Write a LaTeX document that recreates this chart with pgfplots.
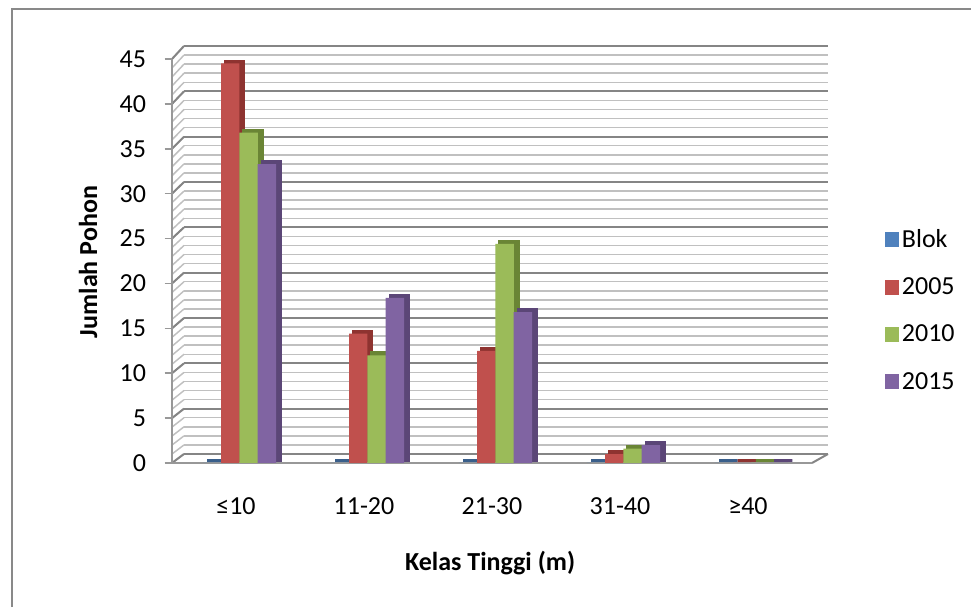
\documentclass[border=0pt]{standalone}
\usepackage{fontspec}
\setmainfont{Carlito}
\usepackage{pgfplots}
\pgfplotsset{compat=1.18}
\definecolor{cBlue}{HTML}{4F81BD}
\definecolor{cRed}{HTML}{C0504D}
\definecolor{cGreen}{HTML}{9BBB59}
\definecolor{cPurple}{HTML}{8064A2}
\definecolor{cBlueD}{HTML}{3A5F8B}
\definecolor{cRedD}{HTML}{8E3330}
\definecolor{cGreenD}{HTML}{6A8535}
\definecolor{cPurpleD}{HTML}{5B4677}
\definecolor{gridD}{HTML}{858585}
\definecolor{gridL}{HTML}{C0C0C0}
\definecolor{axisC}{HTML}{989898}
\definecolor{frameC}{HTML}{898989}
\newcommand{\chartfont}{\fontsize{19.5}{23}\selectfont}
\begin{document}
\begin{tikzpicture}
\useasboundingbox (0,0) rectangle (728.25pt,455.25pt);
\fill[white] (0,0) rectangle (728.25pt,455.25pt);
\draw[frameC, line width=1.3pt] (9pt,0) -- (9pt,448.5pt) -- (728.25pt,448.5pt);

% back wall
\begin{axis}[
  at={(138pt,114.75pt)}, anchor=south west, scale only axis,
  width=483pt, height=306pt,
  xmin=-0.5, xmax=4.5, ymin=0, ymax=45,
  axis line style={draw=none}, tick style={draw=none},
  xtick=\empty, ytick={0,5,...,45}, minor y tick num=4, yticklabels={},
  yminorgrids,
  minor grid style={gridL, line width=1.1pt},
  clip=false]
\pgfplotsinvokeforeach{0,...,45}{\draw[gridL, line width=1.1pt] (axis cs:-0.5,#1) -- ++(-9pt,{-6.75pt-#1*0.0667pt});}
\pgfplotsinvokeforeach{0,5,...,45}{\draw[gridD, line width=1.5pt] (axis cs:-0.5,#1) -- ++(-9pt,{-6.75pt-#1*0.0667pt});}
\pgfplotsinvokeforeach{0,5,...,45}{\draw[gridD, line width=1.5pt] (axis cs:-0.5,#1) -- (axis cs:4.5,#1);}
\draw[gridD, line width=1.5pt] (axis cs:4.5,0) -- ++(-12pt,-6.75pt);
\end{axis}

% front
\begin{axis}[
  at={(129pt,108pt)}, anchor=south west, scale only axis,
  width=480pt, height=303pt,
  xmin=-0.5, xmax=4.5, ymin=0, ymax=45,
  axis x line*=bottom, axis y line*=left,
  axis line style={axisC, line width=1.1pt, -},
  xtick={0,...,4}, xticklabels={≤10,11-20,21-30,31-40,≥40},
  ytick={0,5,...,45},
  x tick style={draw=none},
  y tick style={axisC, line width=1.1pt},
  tick align=outside, major tick length=5.5pt,
  ticklabel style={font=\chartfont},
  /pgf/number format/assume math mode=true,
  xticklabel style={yshift=-17pt},
  yticklabel style={xshift=-10.5pt},
  xlabel={Kelas Tinggi (m)},
  xlabel style={at={(axis description cs:0.497,-0.2475)}, anchor=center, font=\bfseries\chartfont},
  ylabel={Jumlah Pohon},
  ylabel style={at={(axis description cs:-0.131,0.4975)}, anchor=center, font=\bfseries\chartfont},
  ybar, bar width=13.75pt,
  clip=false,
  legend style={at={(1.113,0.585)}, anchor=north west, draw=none, fill=none, font=\chartfont,
    row sep=17.2pt, inner sep=0pt, cells={anchor=west}},
  legend image code/.code={\fill[#1] (0pt,-5.5pt) rectangle (11pt,5.5pt);},
]
% depth faces
\addplot[forget plot, fill=cBlueD, draw=cBlueD, line width=2.4pt, bar shift=-18pt, xshift=3.3pt, yshift=1.75pt] coordinates {(0,0) (1,0) (2,0) (3,0) (4,0)};
\addplot[forget plot, fill=cRedD, draw=cRedD, line width=2.4pt, bar shift=-4.28pt, xshift=3.3pt, yshift=1.75pt] coordinates {(0,44.5) (1,14.4) (2,12.5) (3,1.0) (4,0)};
\addplot[forget plot, fill=cGreenD, draw=cGreenD, line width=2.4pt, bar shift=9.45pt, xshift=3.3pt, yshift=1.75pt] coordinates {(0,36.8) (1,12.0) (2,24.4) (3,1.6) (4,0)};
\addplot[forget plot, fill=cPurpleD, draw=cPurpleD, line width=2.4pt, bar shift=23.18pt, xshift=3.3pt, yshift=1.75pt] coordinates {(0,33.3) (1,18.4) (2,16.8) (3,2.0) (4,0)};
% front faces
\addplot[fill=cBlue, draw=none, bar shift=-18pt] coordinates {(0,0) (1,0) (2,0) (3,0) (4,0)};
\addplot[fill=cRed, draw=none, bar shift=-4.28pt] coordinates {(0,44.5) (1,14.4) (2,12.5) (3,1.0) (4,0)};
\addplot[fill=cGreen, draw=none, bar shift=9.45pt] coordinates {(0,36.8) (1,12.0) (2,24.4) (3,1.6) (4,0)};
\addplot[fill=cPurple, draw=none, bar shift=23.18pt] coordinates {(0,33.3) (1,18.4) (2,16.8) (3,2.0) (4,0)};
\legend{Blok,2005,2010,2015}
\end{axis}
\end{tikzpicture}
\end{document}
